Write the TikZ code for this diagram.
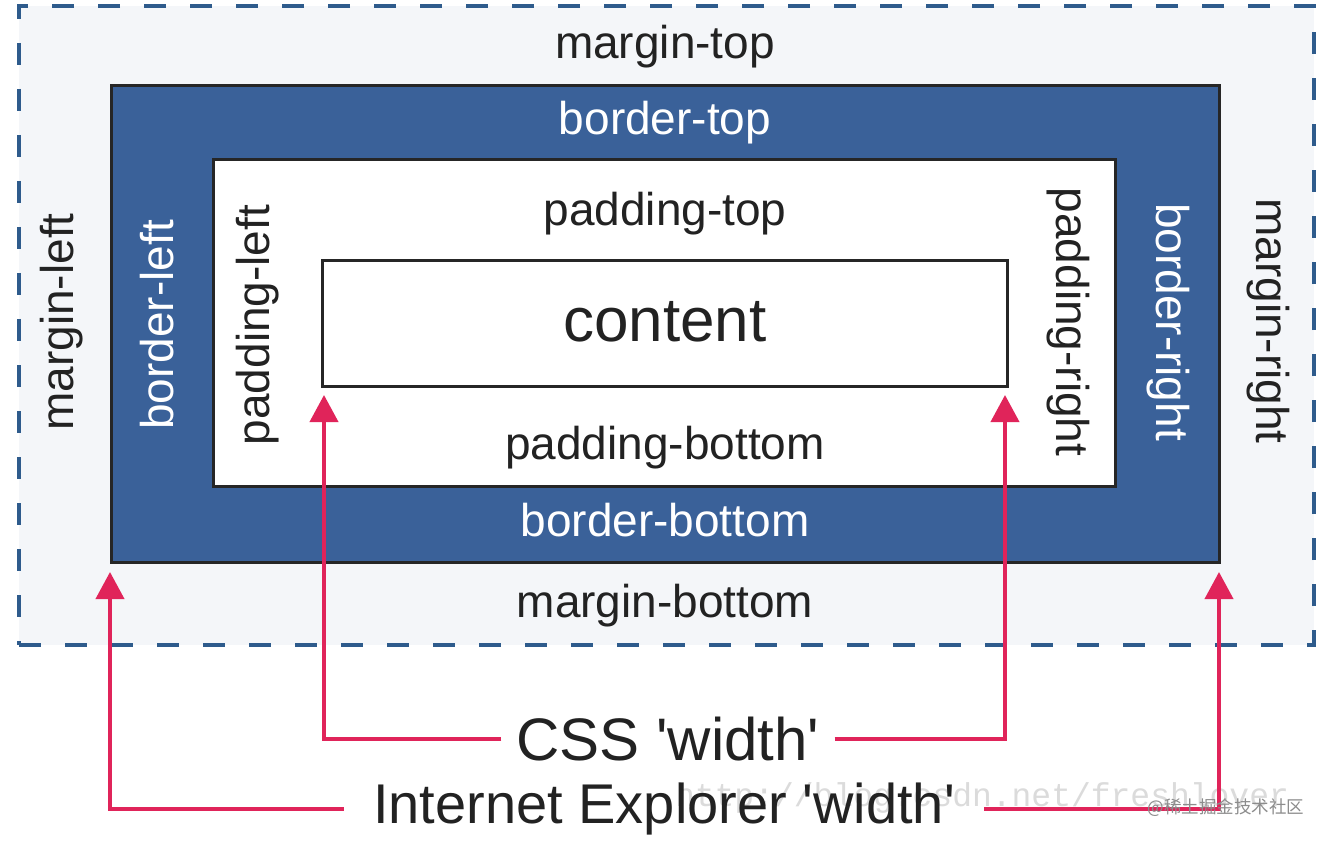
\documentclass[tikz,border=0pt]{standalone}
\usepackage{fontspec}
\setmainfont{Liberation Sans}
\newfontfamily\cjk{Noto Sans CJK SC}
\newfontfamily\wmono{Liberation Mono}
\usetikzlibrary{arrows.meta}
\definecolor{marginfill}{HTML}{F4F6F9}
\definecolor{dashblue}{HTML}{2E5B8C}
\definecolor{borderblue}{HTML}{3A6199}
\definecolor{arrred}{HTML}{E0245A}
\definecolor{txt}{HTML}{222222}
\tikzset{
  box/.style={draw=black!85, line width=3pt, anchor=north west, inner sep=0pt},
  lab/.style={inner sep=0pt, text=txt, font=\fontsize{46}{50}\selectfont},
  wlab/.style={lab, text=white},
  big/.style={text=txt, inner ysep=0pt, font=\fontsize{60}{64}\selectfont},
  arr/.style={draw=arrred, line width=4pt, -{Triangle[width=28pt,length=27pt]}}
}
\begin{document}
\begin{tikzpicture}[x=1pt,y=-1pt]
\useasboundingbox (0,0) rectangle (1330,842);
\fill[white] (0,0) rectangle (1330,842);
% margin box
\node[anchor=north west, inner sep=0pt, fill=marginfill, draw=dashblue, line width=4pt,
      dash pattern=on 22pt off 24pt, minimum width=1295pt, minimum height=639pt] (margin) at (17,4) {};
% border box
\node[box, fill=borderblue, minimum width=1108pt, minimum height=477pt] (border) at (110,84) {};
% padding box
\node[box, fill=white, minimum width=902pt, minimum height=327pt] (padding) at (212,158) {};
% content box
\node[box, fill=white, minimum width=685pt, minimum height=126pt] (content) at (321,259) {};
\node[lab, font=\fontsize{62}{66}\selectfont] (contenttext) at (665,322) {content};
% labels
\node[lab] (mt) at (665,47) {margin-top};
\node[lab] (mb) at (665,606) {margin-bottom};
\node[lab, rotate=90] (ml) at (62,322) {margin-left};
\node[lab, rotate=-90] (mr) at (1268,321) {margin-right};
\node[wlab] (bt) at (665,123) {border-top};
\node[wlab] (bb) at (665,520) {border-bottom};
\node[wlab, rotate=90] (bl) at (157,325) {border-left};
\node[wlab, rotate=-90] (br) at (1168,322) {border-right};
\node[lab] (pt) at (665,214) {padding-top};
\node[lab] (pb) at (665,448) {padding-bottom};
\node[lab, rotate=90] (pl) at (258,325) {padding-left};
\node[lab, rotate=-90] (pr) at (1068,322) {padding-right};
% watermark
\node[text=black!14, font=\wmono\fontsize{33}{36}\selectfont, inner sep=0pt] (wm) at (982,798) {http://blog.csdn.net/freshlover};
% bottom labels
\node[big, inner xsep=15pt] (css) at (668,739) {CSS \textquotesingle width\textquotesingle};
\node[big, inner xsep=29pt, font=\fontsize{56}{60}\selectfont] (ie) at (664,809) {Internet Explorer \textquotesingle width\textquotesingle};
% arrows
\draw[arr] (css.west) -| ([xshift=3pt,yshift=-7pt]content.south west);
\draw[arr] (css.east) -| ([xshift=-4pt,yshift=-7pt]content.south east);
\draw[arr] (ie.west) -| ([yshift=-8pt]border.south west);
\draw[arr] (ie.east) -| ([xshift=-2pt,yshift=-8pt]border.south east);
\node[text=black!45, font=\cjk\fontsize{17.5}{20}\selectfont, inner sep=0pt] (wm2) at (1226,808) {@稀土掘金技术社区};
\end{tikzpicture}
\end{document}
